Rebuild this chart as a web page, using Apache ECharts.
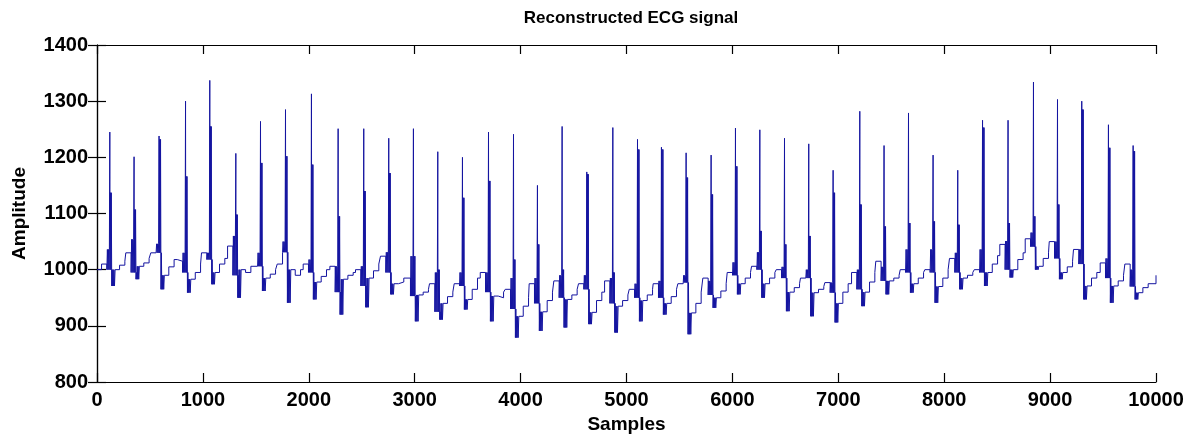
<!DOCTYPE html>
<html>
<head>
<meta charset="utf-8">
<script src="https://cdn.jsdelivr.net/npm/echarts@6/dist/echarts.min.js"></script>
<style>
html,body{margin:0;padding:0;background:#fff;}
#chart{width:1199px;height:446px;}
</style>
</head>
<body>
<div id="chart"></div>
<script>
// ---- Data (sample index / amplitude) ----
const xTicks = [0,1000,2000,3000,4000,5000,6000,7000,8000,9000,10000];
const yTicks = [800,900,1000,1100,1200,1300,1400];
const signalStart = [0, 1000];
const signalEnd = [10000, 990];
// per-beat readings (R-peak sample position and levels of the beat)
const rPos = [123,352,588,838,1067,1313,1546,1782,2027,2279,2521,2757,2990,3220,3453,3699,3935,4161,4394,4627,4873,5106,5332,5565,5801,6031,6261,6494,6723,6953,7205,7434,7665,7897,8130,8364,8605,8845,9072,9301,9553,9786];
const rPeak = [1245,1201,1238,1300,1337,1207,1264,1285,1313,1251,1251,1234,1251,1210,1200,1245,1241,1150,1255,1174,1253,1232,1218,1208,1204,1252,1249,1234,1224,1177,1282,1221,1279,1204,1177,1266,1266,1334,1303,1300,1258,1221];
const rSecond = [1137,1107,1232,1166,1255,1098,1190,1202,1187,1095,1140,1172,1024,1000,1128,1158,1018,1045,1000,1170,995,1214,1214,1164,1134,1184,1069,1045,1060,1137,1116,1077,1083,1086,1080,1253,1083,1095,1116,1285,1217,1211];
const preHigh = [1036,1054,1046,1030,1030,1060,1030,1050,1018,1006,1006,1031,1024,995,995,995,985,985,990,990,985,975,980,990,980,1013,1031,1005,1000,977,1000,1005,1036,1036,1030,1036,1051,1066,1050,1036,1020,1000];
const preLow = [1000,995,1030,995,1018,990,1006,1031,995,960,971,995,953,925,971,960,930,940,950,965,940,950,950,977,955,990,1000,985,985,959,965,980,995,995,995,995,1000,1041,1020,1010,985,970];
const sMin = [971,983,965,959,974,950,962,941,947,920,933,956,908,911,929,908,879,891,897,903,888,908,920,885,932,956,950,926,917,906,935,956,959,941,965,971,986,1000,983,947,941,947];
const postLvl = [1000,1006,990,983,995,1000,985,1000,978,983,985,975,955,940,947,953,917,925,947,924,935,945,940,923,950,975,975,960,959,940,960,980,975,970,985,995,1000,1006,995,971,971,959];
const riseLvl = [1008,1012,1005,995,1010,995,992,990,988,990,998,978,960,952,965,950,935,945,955,945,945,955,952,940,962,985,985,968,965,960,978,985,985,985,990,1010,1018,1020,1005,985,980,968];
const midLvl = [1015,1020,1018,1010,1020,1006,1000,1000,1000,995,1010,985,965,960,985,960,950,960,965,960,955,965,965,960,975,995,995,975,970,975,995,990,995,1000,995,1025,1030,1030,1015,995,990,975];
const baseLvl = [1010,1030,1030,1015,1030,1042,1006,1010,1010,1006,1000,1024,985,975,975,995,965,975,980,975,980,965,975,975,985,995,1006,1000,985,977,995,1015,1000,1000,1020,1000,1045,1055,1050,1036,1012,1010];

// ---- build the line from the readings ----
const pts = [signalStart];
for (let i = 0; i < rPos.length; i++) {
  const R = rPos[i];
  const seq = [
    [-80, baseLvl[i]], [-30, preLow[i]], [-25, preHigh[i]], [-20, preLow[i]], [-15, preHigh[i]],
    [-10, preLow[i]], [-6, preHigh[i]], [-2, rPeak[i]], [0, preLow[i]], [4, rSecond[i]],
    [8, preLow[i]], [12, rSecond[i]], [16, sMin[i]], [20, preLow[i]], [24, sMin[i]],
    [28, postLvl[i]], [32, sMin[i]], [37, postLvl[i]], [42, sMin[i]], [48, postLvl[i]],
    [90, riseLvl[i]], [140, midLvl[i]]
  ];
  seq.forEach(p => pts.push([R + p[0], p[1]]));
}
pts.push(signalEnd);

const font = 'Liberation Sans, Arial, sans-serif';
const lbl = {color:'#000', fontWeight:'bold', fontSize:20, fontFamily:font, formatter: v => String(v)};
const axLine = {show:true, lineStyle:{color:'#000', width:1.2}};
const tick = {show:true, inside:true, length:9, lineStyle:{color:'#000', width:1.2}};

const chart = echarts.init(document.getElementById('chart'), null, {renderer:'canvas'});
chart.setOption({
  animation:false,
  backgroundColor:'#fff',
  title:{text:'Reconstructed ECG signal', left:626, top:5, textAlign:'center',
    textStyle:{color:'#000', fontWeight:'bold', fontSize:17, fontFamily:font}},
  grid:{left:97, right:43, top:45, bottom:64, outerBoundsMode:'none'},
  xAxis:[
    {type:'value', min:xTicks[0], max:xTicks[xTicks.length-1], interval:1000, position:'bottom',
     name:'Samples', nameLocation:'middle', nameGap:30,
     nameTextStyle:{color:'#000', fontWeight:'bold', fontSize:19, fontFamily:font},
     axisLine:axLine, axisTick:tick, splitLine:{show:false},
     axisLabel:Object.assign({margin:8}, lbl)},
    {type:'value', min:xTicks[0], max:xTicks[xTicks.length-1], interval:1000, position:'top',
     axisLine:axLine, axisTick:tick, splitLine:{show:false}, axisLabel:{show:false}}
  ],
  yAxis:[
    {type:'value', min:yTicks[0], max:yTicks[yTicks.length-1], interval:100, position:'left',
     name:'Amplitude', nameLocation:'middle', nameGap:68, nameRotate:90,
     nameTextStyle:{color:'#000', fontWeight:'bold', fontSize:19, fontFamily:font},
     axisLine:axLine, axisTick:tick, splitLine:{show:false},
     axisLabel:Object.assign({margin:9}, lbl)},
    {type:'value', min:yTicks[0], max:yTicks[yTicks.length-1], interval:100, position:'right',
     axisLine:axLine, axisTick:tick, splitLine:{show:false}, axisLabel:{show:false}}
  ],
  series:[{
    type:'line', data:pts, xAxisIndex:0, yAxisIndex:0,
    step:'end', showSymbol:false, symbol:'none',
    lineStyle:{color:'#1414a0', width:1}, silent:true
  }]
});
</script>
</body>
</html>
